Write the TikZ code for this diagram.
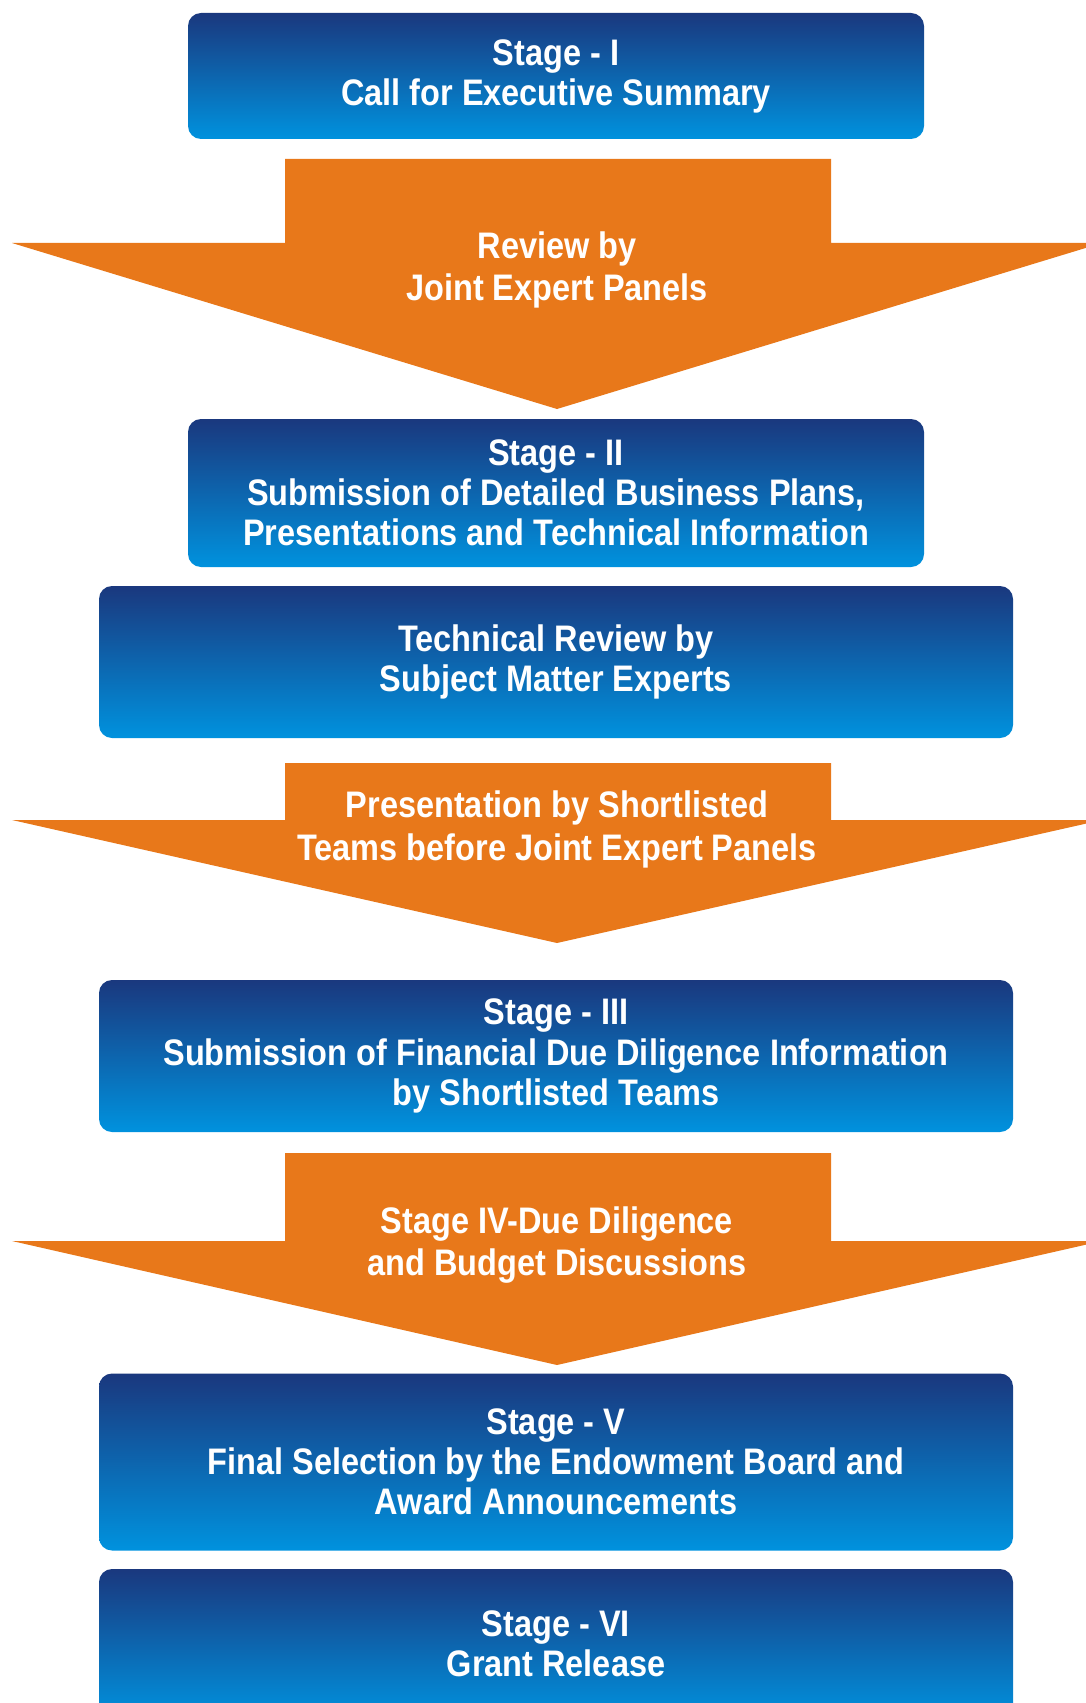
\documentclass[tikz,border=0pt]{standalone}
\usepackage{fontspec}
\setsansfont{Liberation Sans}[FakeStretch=0.88]
\usepackage{tikz}
\usetikzlibrary{positioning, calc}
\usepackage{xcolor}
\definecolor{navytop}{RGB}{26,56,126}
\definecolor{skyblue}{RGB}{0,146,222}
\definecolor{flowarrow}{RGB}{232,120,26}

\begin{document}
\begin{tikzpicture}[x=0.01cm, y=-0.01cm,
  stagebox/.style={rounded corners=13*0.01cm, top color=navytop, bottom color=skyblue,
    text=white, align=center, inner sep=0pt,
    font=\sffamily\bfseries\fontsize{10.5}{11.4}\selectfont},
  flowtext/.style={text=white, align=center, inner sep=0pt,
    font=\sffamily\bfseries\fontsize{10.5}{12.2}\selectfont}]
  \useasboundingbox (0,0) rectangle (1086,1703);
  \clip (0,0) rectangle (1086,1703);
  % orange down arrows: top / shoulder / tip
  \foreach \t/\s/\p in {159/243/409, 763/820/943, 1153/1241/1365} {
    \fill[flowarrow] (285,\t) -- (831,\t) -- (831,\s) -- (1102,\s) -- (557,\p)
      -- (12,\s) -- (285,\s) -- cycle;
  }
  % stage boxes
  \node[stagebox, minimum width=736*0.01cm, minimum height=126*0.01cm] (s1) at (556,76)
    {Stage - I\\Call for Executive Summary};
  \node[stagebox, minimum width=736*0.01cm, minimum height=148*0.01cm] (s2) at (556,493)
    {Stage - II\\Submission of Detailed Business Plans,\\Presentations and Technical Information};
  \node[stagebox, minimum width=914*0.01cm, minimum height=152*0.01cm] (tr) at (556,662)
    {Technical Review by\\Subject Matter Experts};
  \node[stagebox, minimum width=914*0.01cm, minimum height=152*0.01cm] (s3) at (556,1056)
    {Stage - III\\Submission of Financial Due Diligence Information\\by Shortlisted Teams};
  \node[stagebox, minimum width=914*0.01cm, minimum height=177*0.01cm] (s5) at (556,1462)
    {Stage - V\\Final Selection by the Endowment Board and\\Award Announcements};
  \node[stagebox, minimum width=914*0.01cm, minimum height=150*0.01cm] (s6) at (556,1644)
    {Stage - VI\\Grant Release};
  % arrow labels
  \node[flowtext] (rev) at (557,270) {Review by\\Joint Expert Panels};
  \node[flowtext] (pres) at (557,829) {Presentation by Shortlisted\\Teams before Joint Expert Panels};
  \node[flowtext] (s4) at (557,1245) {Stage IV-Due Diligence\\and Budget Discussions};
\end{tikzpicture}
\end{document}
